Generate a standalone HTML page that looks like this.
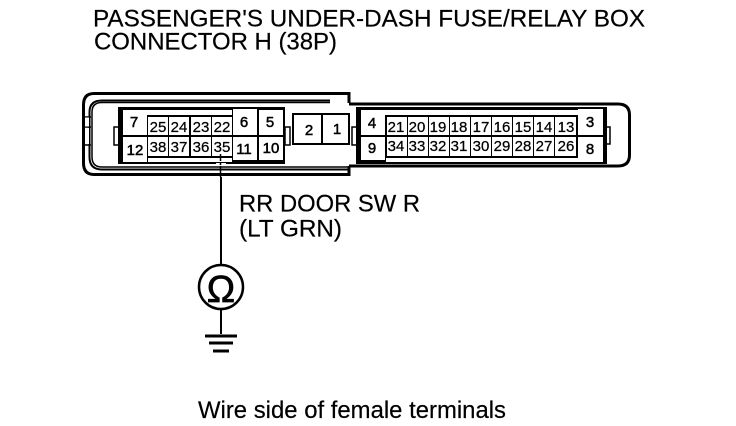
<!DOCTYPE html>
<html><head><meta charset="utf-8"><style>
html,body{margin:0;padding:0;background:#fff;width:736px;height:426px;overflow:hidden}
svg{display:block}
text{font-family:"Liberation Sans",sans-serif;fill:#000}
.n{font-size:15px;text-anchor:middle;stroke:#000;stroke-width:.5px}
.s{font-size:15px;text-anchor:middle;stroke:#000;stroke-width:.25px}
.l{font-size:24px;stroke:#000;stroke-width:.2px}
</style></head><body>
<svg width="736" height="426" viewBox="0 0 736 426" xmlns="http://www.w3.org/2000/svg">
<text class="l" x="93" y="26.500" textLength="552" lengthAdjust="spacingAndGlyphs">PASSENGER'S UNDER-DASH FUSE/RELAY BOX</text>
<text class="l" x="94" y="49.500" textLength="243" lengthAdjust="spacingAndGlyphs">CONNECTOR H (38P)</text>

<!-- housing -->
<path d="M349 103V93.500H94Q83.500 93.500 83.500 105V163Q83.500 174.500 94 174.500H349V166" fill="none" stroke="#000" stroke-width="3"/>
<path d="M349 104H618Q629.500 104 629.500 115V155Q629.500 166 618 166H349" fill="none" stroke="#000" stroke-width="3"/>
<path d="M330 102.500H102Q92 102.500 92 112V157Q92 167 102 167H349" fill="none" stroke="#000" stroke-width="1.500"/>
<path d="M330 100.500H102Q89.500 100.500 89.500 112V157Q89.500 169.500 102 169.500H349" fill="none" stroke="#000" stroke-width="2"/>
<path d="M84 117H91M84 127H91M84 145H91" fill="none" stroke="#000" stroke-width="1.500"/>
<rect x="85" y="117.500" width="4" height="9" fill="#fff"/>
<rect x="85" y="128" width="4" height="16" fill="#fff"/>

<!-- tabs -->
<g fill="#fff" stroke="#000" stroke-width="1.500">
<rect x="114" y="127" width="5" height="18"/>
<rect x="285" y="127" width="5" height="18"/>
<rect x="352" y="127" width="5" height="18"/>
<rect x="606" y="127" width="4" height="17"/>
</g>

<!-- left block -->
<rect x="118" y="107" width="167" height="57" fill="#000"/>
<g fill="#fff">
<rect x="123" y="110" width="24" height="25"/><rect x="123" y="137" width="24" height="25"/>
<rect x="147" y="110" width="85" height="5"/>
<rect x="148" y="117" width="20" height="18"/><rect x="169" y="117" width="20" height="18"/><rect x="191" y="117" width="20" height="18"/><rect x="212" y="117" width="20" height="18"/>
<rect x="148" y="137" width="20" height="19"/><rect x="169" y="137" width="20" height="19"/><rect x="191" y="137" width="20" height="19"/><rect x="212" y="137" width="20" height="19"/>
<rect x="148" y="158" width="84" height="4"/>
<rect x="233" y="109" width="24" height="26"/><rect x="233" y="137" width="24" height="23"/>
<rect x="259" y="110" width="24" height="25"/><rect x="259" y="137" width="24" height="23"/>
</g>
<text class="n" x="134" y="127">7</text><text class="n" x="135" y="155">12</text>
<text class="n" x="244" y="127">6</text><text class="n" x="244" y="154">11</text>
<text class="n" x="270" y="127">5</text><text class="n" x="271" y="153">10</text>
<text class="s" x="158" y="132">25</text><text class="s" x="179" y="132">24</text><text class="s" x="201" y="132">23</text><text class="s" x="222" y="132">22</text>
<text class="s" x="158" y="152">38</text><text class="s" x="179" y="152">37</text><text class="s" x="201" y="152">36</text><text class="s" x="222" y="152">35</text>

<!-- middle -->
<rect x="293" y="114" width="56" height="30" fill="#fff" stroke="#000" stroke-width="2"/>
<path d="M322 114V144" stroke="#000" stroke-width="2"/>
<text class="n" x="309" y="135">2</text><text class="n" x="337" y="134">1</text>

<!-- right block -->
<rect x="356" y="107" width="251" height="57" fill="#000"/>
<g fill="#fff">
<rect x="361" y="110" width="24" height="25"/><rect x="361" y="137" width="24" height="23"/>
<rect x="578" y="109" width="25" height="26"/><rect x="578" y="137" width="25" height="25"/>
<rect x="385" y="110" width="193" height="5"/>
<rect x="386" y="158" width="192" height="4"/>
<rect x="387" y="117" width="20" height="18"/><rect x="408" y="117" width="20" height="18"/><rect x="429" y="117" width="20" height="18"/><rect x="450" y="117" width="20" height="18"/><rect x="471" y="117" width="20" height="18"/><rect x="492" y="117" width="20" height="18"/><rect x="513" y="117" width="20" height="18"/><rect x="534" y="117" width="20" height="18"/><rect x="555" y="117" width="21" height="18"/>
<rect x="387" y="137" width="20" height="19"/><rect x="408" y="137" width="20" height="19"/><rect x="429" y="137" width="20" height="19"/><rect x="450" y="137" width="20" height="19"/><rect x="471" y="137" width="20" height="19"/><rect x="492" y="137" width="20" height="19"/><rect x="513" y="137" width="20" height="19"/><rect x="534" y="137" width="20" height="19"/><rect x="555" y="137" width="21" height="19"/>
</g>
<text class="n" x="372" y="128">4</text><text class="n" x="372" y="153">9</text>
<text class="n" x="590" y="127">3</text><text class="n" x="590" y="154">8</text>
<text class="s" x="396" y="132">21</text><text class="s" x="417" y="132">20</text><text class="s" x="438" y="132">19</text><text class="s" x="459" y="132">18</text><text class="s" x="481" y="132">17</text><text class="s" x="502" y="132">16</text><text class="s" x="523" y="132">15</text><text class="s" x="544" y="132">14</text><text class="s" x="566" y="132">13</text>
<text class="s" x="396" y="151">34</text><text class="s" x="417" y="151">33</text><text class="s" x="438" y="151">32</text><text class="s" x="459" y="151">31</text><text class="s" x="481" y="151">30</text><text class="s" x="502" y="151">29</text><text class="s" x="523" y="151">28</text><text class="s" x="544" y="151">27</text><text class="s" x="566" y="151">26</text>

<!-- probe wire -->
<rect x="216" y="163" width="10" height="3" fill="#fff"/>
<rect x="216" y="171" width="10" height="1" fill="#fff"/>
<path d="M220.500 154V177" stroke="#000" stroke-width="1.500" stroke-dasharray="3 1"/>
<path d="M221 177V266" stroke="#000" stroke-width="2"/>
<circle cx="221" cy="287" r="22" fill="#fff" stroke="#000" stroke-width="2.500"/>
<text x="221" y="302" text-anchor="middle" style="font-size:38px;stroke:#000;stroke-width:.7px">Ω</text>
<path d="M221 309V334" stroke="#000" stroke-width="2"/>
<path d="M205 336H237" stroke="#000" stroke-width="3"/>
<path d="M209 343H233" stroke="#000" stroke-width="3"/>
<path d="M213 351H229" stroke="#000" stroke-width="3"/>

<text class="l" x="239" y="211.500" textLength="181" lengthAdjust="spacingAndGlyphs">RR DOOR SW R</text>
<text class="l" x="239" y="236.500" textLength="103" lengthAdjust="spacingAndGlyphs">(LT GRN)</text>
<text class="l" x="198" y="418" textLength="308" lengthAdjust="spacingAndGlyphs">Wire side of female terminals</text>
</svg>
</body></html>
